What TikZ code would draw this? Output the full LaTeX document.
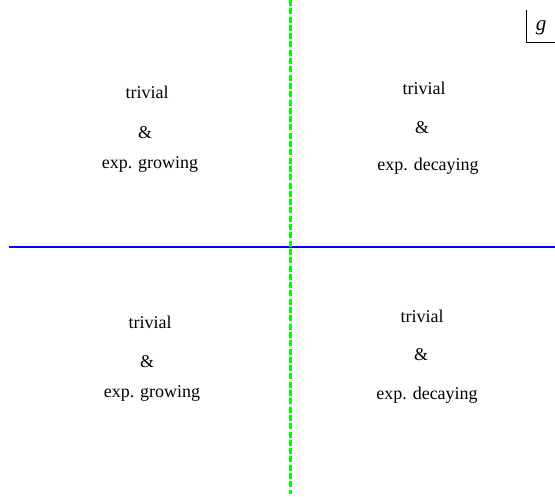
\documentclass[tikz,border=0pt]{standalone}
\usepackage{fontspec}
\setmainfont{Liberation Serif}
\usetikzlibrary{positioning}
\definecolor{axisBlue}{RGB}{0,0,255}
\definecolor{axisGreen}{RGB}{0,255,0}
\tikzset{
    regiontext/.style={anchor=base, inner sep=0pt, font=\fontsize{18}{21}\selectfont},
    glabel/.style={anchor=base, inner sep=0pt, font=\fontsize{21}{24}\selectfont\itshape},
    hline/.style={draw=axisBlue, line width=2.2pt},
    vline/.style={draw=axisGreen, line width=3pt, dash pattern=on 6pt off 2.3pt},
    framebox/.style={draw=black, line width=0.9pt},
}

\begin{document}
\begin{tikzpicture}[x=1pt, y=-1pt]
    \useasboundingbox (0,0) rectangle (555,497);

    % Axes
    \coordinate (hLeft) at (9,247);
    \coordinate (hRight) at (555,247);
    \coordinate (vTop) at (290,0);
    \coordinate (vBottom) at (290,494);
    \draw[hline] (hLeft) -- (hRight);
    \draw[vline] (vTop) -- (vBottom);

    % Top left
    \node[regiontext] (tlTrivial) at (147,99) {trivial};
    \node[regiontext] (tlAnd) at (145,139) {\&};
    \node[regiontext] (tlGrow) at (150,169) {exp. growing};

    % Top right
    \node[regiontext] (trTrivial) at (424,95) {trivial};
    \node[regiontext] (trAnd) at (422,134) {\&};
    \node[regiontext] (trDecay) at (428,171) {exp. decaying};

    % Bottom left
    \node[regiontext] (blTrivial) at (150,329) {trivial};
    \node[regiontext] (blAnd) at (147,368) {\&};
    \node[regiontext] (blGrow) at (152,398) {exp. growing};

    % Bottom right
    \node[regiontext] (brTrivial) at (422,323) {trivial};
    \node[regiontext] (brAnd) at (421,361) {\&};
    \node[regiontext] (brDecay) at (427,400) {exp. decaying};

    % Label box
    \coordinate (fTop) at (526,10);
    \coordinate (fCorner) at (526,42.5);
    \coordinate (fRight) at (555,42.5);
    \draw[framebox] (fTop) -- (fCorner) -- (fRight);
    \node[glabel] (gSym) at (541,31) {g};
\end{tikzpicture}
\end{document}
